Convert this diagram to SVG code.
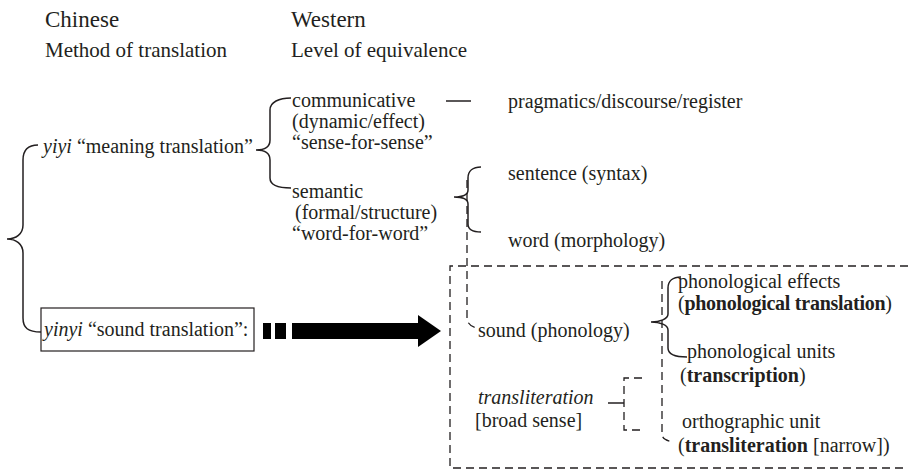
<svg xmlns="http://www.w3.org/2000/svg" width="908" height="471" viewBox="0 0 908 471">
<style>
text{font-family:"Liberation Serif","Times New Roman",serif;font-size:20px;fill:#231f20}
.h1{font-size:23px}
.h2{font-size:21px}
.i{font-style:italic}
.b{font-weight:bold}
.s{fill:none;stroke:#231f20;stroke-width:1.5}
.d{fill:none;stroke:#231f20;stroke-width:1.3;stroke-dasharray:8 5}
</style>
<rect width="908" height="471" fill="#fff"/>
<g id="headers">
<text class="h1" x="45" y="27">Chinese</text>
<text class="h2" x="45" y="57">Method of translation</text>
<text class="h1" x="291" y="27">Western</text>
<text class="h2" x="291" y="57">Level of equivalence</text>
</g>
<g id="yiyi"><text x="43" y="153"><tspan class="i">yiyi</tspan> “meaning translation”</text></g>
<g id="yinyi">
<rect x="41" y="308" width="213" height="43" fill="none" stroke="#231f20" stroke-width="1.2"/>
<text x="44" y="336"><tspan class="i">yinyi</tspan> “sound translation”:</text>
</g>
<g id="communicative">
<text x="292" y="107">communicative</text>
<text x="292" y="128">(dynamic/effect)</text>
<text x="292" y="149">“sense-for-sense”</text>
</g>
<g id="semantic">
<text x="292" y="198">semantic</text>
<text x="295" y="219">(formal/structure)</text>
<text x="292" y="240">“word-for-word”</text>
</g>
<g id="pragmatics"><text x="508" y="108">pragmatics/discourse/register</text></g>
<g id="sentence"><text x="508" y="180">sentence (syntax)</text></g>
<g id="word"><text x="508" y="247">word (morphology)</text></g>
<g id="sound"><text x="478" y="337">sound (phonology)</text></g>
<g id="effects">
<text x="678" y="288">phonological effects</text>
<text x="678" y="310" textLength="214">(<tspan class="b">phonological translation</tspan>)</text>
</g>
<g id="units">
<text x="687" y="358">phonological units</text>
<text x="680" y="382">(<tspan class="b">transcription</tspan>)</text>
</g>
<g id="orthographic">
<text x="682" y="428">orthographic unit</text>
<text x="678" y="452">(<tspan class="b">transliteration</tspan> [narrow])</text>
</g>
<g id="transliteration">
<text x="478" y="404" class="i">transliteration</text>
<text x="475" y="427">[broad sense]</text>
</g>
<g id="connectors">
<path class="s" d="M38,145 C28,145 23,150 23,160 L23,225 C23,234 16,239 7,239 C16,239 23,244 23,253 L23,318 C23,328 28,332 41,332"/>
<path class="s" d="M291,98 C279,98 270,102 270,110 L270,140 C270,147 264,150 256,150 C264,150 270,153 270,160 L270,178 C270,185 278,188 291,188"/>
<path class="s" d="M481,167 C473,167 468,171 468,178 L468,190 C468,195 462,197 454,197 C462,197 468,199 468,204 L468,224 C468,230 473,232 481,232"/>
<path class="s" d="M681,277 C673,277 668,281 668,288 L668,314 C668,319 660,322 651,322 C660,322 668,325 668,330 L668,348 C668,354 675,357 687,357"/>
<line class="s" x1="446" y1="101" x2="471" y2="101"/>
<line class="s" x1="608" y1="403" x2="624" y2="403"/>
<path class="d" d="M467,180 L467,318 C467,323 471,327 477,328"/>
<path class="d" d="M662,281 L662,434 C662,439 667,441 674,442"/>
<path class="d" d="M642,378 L624,378 L624,430 L642,430"/>
<path class="d" d="M908,266 L450,266 L450,468 L908,468"/>
<g fill="#000">
<rect x="263" y="323" width="8" height="16"/>
<rect x="275" y="323" width="11" height="16"/>
<rect x="292" y="323" width="127" height="16"/>
<polygon points="418,315 441,331 418,347"/>
</g>
</g>
</svg>
